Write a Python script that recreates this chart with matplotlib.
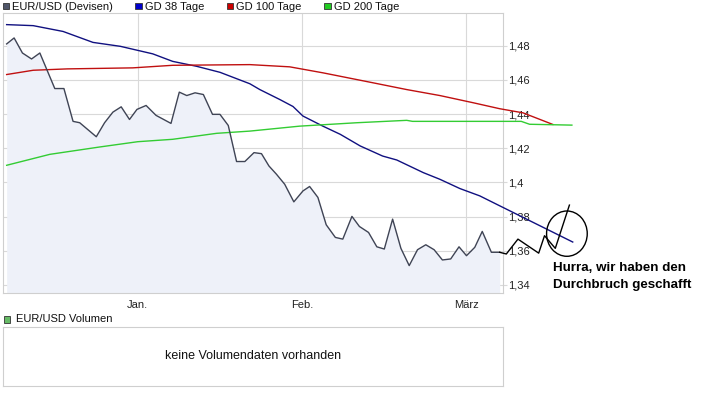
import matplotlib
matplotlib.use("Agg")
import matplotlib.pyplot as plt
from matplotlib.patches import Rectangle, Ellipse

plt.rcParams['font.family'] = ['Liberation Sans', 'DejaVu Sans']

# ---- data (x = trading-day index) ----
price_x = [0, 0.9, 1.9, 3.0, 4.0, 5.8, 6.9, 8.0, 8.8, 10.8, 11.8, 12.8, 13.8, 14.8, 15.7,
           16.8, 18.0, 19.8, 20.8, 21.7, 22.7, 23.7, 24.8, 25.7, 26.7, 27.7, 28.7, 29.8,
           30.7, 31.6, 32.5, 33.5, 34.6, 35.7, 36.5, 37.5, 38.5, 39.6, 40.5, 41.6, 42.5,
           43.6, 44.6, 45.5, 46.5, 47.5, 48.5, 49.5, 50.5, 51.5, 52.5, 53.5, 54.5, 55.4,
           56.4, 57.3, 58.4, 59.4]
price = [1.481, 1.4845, 1.4757, 1.4722, 1.4757, 1.4549, 1.4549, 1.4357, 1.4349, 1.4267,
         1.4349, 1.4411, 1.4442, 1.4368, 1.4427, 1.445, 1.4392, 1.4345, 1.4528, 1.4508,
         1.4524, 1.4514, 1.4398, 1.4398, 1.4333, 1.4122, 1.4122, 1.4174, 1.4168, 1.4096,
         1.4048, 1.3989, 1.3886, 1.395, 1.3976, 1.3912, 1.3752, 1.3678, 1.3668, 1.3801,
         1.3742, 1.3707, 1.3623, 1.361, 1.3785, 1.3614, 1.3513, 1.3606, 1.3635, 1.3606,
         1.3546, 1.3552, 1.3623, 1.3571, 1.362, 1.3713, 1.3591, 1.3591]

gd38_x = [0, 3.2, 6.8, 10.4, 13.7, 17.6, 20.0, 22.9, 25.7, 29.3, 30.5, 32.9, 34.5, 35.7,
          38.1, 40.2, 42.6, 45.3, 47.0, 50.2, 52.2, 54.6, 57.0, 59.4, 68.2]
gd38 = [1.4923, 1.4917, 1.4883, 1.4819, 1.4796, 1.4752, 1.4708, 1.4679, 1.4644, 1.4577,
        1.4543, 1.4485, 1.4444, 1.4388, 1.4329, 1.4281, 1.4213, 1.4154, 1.4131, 1.4057,
        1.4018, 1.3964, 1.3921, 1.3863, 1.3651]

gd100_x = [0, 3.2, 7.3, 15.2, 20.0, 29.3, 34.1, 38.1, 44.1, 48.2, 52.2, 56.2, 59.4, 62.2, 65.8]
gd100 = [1.4631, 1.4656, 1.4664, 1.467, 1.4685, 1.4689, 1.4676, 1.4641, 1.4583, 1.4543,
         1.4508, 1.4466, 1.4431, 1.4407, 1.4339]

gd200_x = [0, 5.2, 11.2, 15.8, 20.0, 25.3, 29.3, 35.3, 42.2, 48.2, 48.9, 59.4, 62.0, 63.0, 68.1]
gd200 = [1.41, 1.4164, 1.4207, 1.4238, 1.4252, 1.4287, 1.43, 1.4329, 1.4349, 1.4363,
         1.4357, 1.4357, 1.4357, 1.4340, 1.4335]

# hand-drawn continuation
sketch_x = [59.4, 60.2, 61.6, 64.1, 64.8, 66.1, 67.8]
sketch = [1.3591, 1.3581, 1.3668, 1.3586, 1.3688, 1.3614, 1.3867]
circle_center = (67.5, 1.370)
circle_size = (4.9, 0.0265)

month_pos = [15.8, 35.6, 55.4]
month_labels = ["Jan.", "Feb.", "März"]
yticks = [1.34, 1.36, 1.38, 1.40, 1.42, 1.44, 1.46, 1.48]
ytick_labels = ["1,34", "1,36", "1,38", "1,4", "1,42", "1,44", "1,46", "1,48"]

legend_items = [("EUR/USD (Devisen)", "#50566a"), ("GD 38 Tage", "#0000cc"),
                ("GD 100 Tage", "#cc0000"), ("GD 200 Tage", "#22cc22")]
note_lines = ["Hurra, wir haben den", "Durchbruch geschafft"]

W, H = 703, 395
fig = plt.figure(figsize=(W / 100, H / 100), dpi=100)

def fx(px):
    return px / W

def fy(py):
    return 1 - py / H

grid_c = "#d9d9d9"
ax = fig.add_axes([fx(2.5), fy(293.3), fx(503) - fx(2.5), fy(13) - fy(293.3)])
ax.set_xlim(-0.5, 59.8)
ax.set_ylim(1.3351, 1.4991)

ax.fill_between(price_x, price, 1.3351, color="#eef1f9", zorder=1, lw=0)
ax.plot(price_x, price, color="#3f4455", lw=1.0, zorder=4)
ax.plot(gd38_x, gd38, color="#101080", lw=1.0, zorder=3, clip_on=False)
ax.plot(gd100_x, gd100, color="#c01010", lw=1.0, zorder=3, clip_on=False)
ax.plot(gd200_x, gd200, color="#33cc33", lw=1.0, zorder=3, clip_on=False)
ax.plot(sketch_x, sketch, color="black", lw=1.0, zorder=5, clip_on=False)
ax.add_patch(Ellipse(circle_center, circle_size[0], circle_size[1], fill=False,
                     ec="black", lw=1.0, zorder=5, clip_on=False))

ax.set_yticks(yticks)
ax.set_yticklabels(ytick_labels)
ax.set_xticks(month_pos)
ax.set_xticklabels(month_labels)
ax.yaxis.tick_right()
ax.tick_params(axis="y", length=3, color=grid_c, labelsize=8, pad=0.5, labelcolor="#222222")
ax.tick_params(axis="x", length=0, labelsize=8, pad=4.5, labelcolor="#222222")
ax.grid(True, color=grid_c, lw=0.8, zorder=0)
ax.set_axisbelow(True)
for s in ax.spines.values():
    s.set_color("#cfcfcf")
    s.set_linewidth(0.8)

for line, py in zip(note_lines, [268, 285]):
    fig.text(fx(553), fy(py), line, fontsize=9.6, fontweight="bold",
             ha="left", va="center", color="black")

# legend row
leg_x = [2.5, 135, 226.5, 324]
for (label, col), lx in zip(legend_items, leg_x):
    fig.patches.append(Rectangle((fx(lx), fy(9)), fx(6.5), 6.5 / H, transform=fig.transFigure,
                                 fc=col, ec="#333333", lw=0.6))
    fig.text(fx(lx + 10), fy(6.5), label, fontsize=8, ha="left", va="center", color="#111111")

# volume panel
fig.patches.append(Rectangle((fx(3.5), fy(322.5)), fx(6.5), 6.5 / H, transform=fig.transFigure,
                             fc="#66bb66", ec="#333333", lw=0.6))
fig.text(fx(15.5), fy(319), "EUR/USD Volumen", fontsize=8, ha="left", va="center", color="#111111")
vax = fig.add_axes([fx(2.5), fy(386), fx(503) - fx(2.5), fy(326.7) - fy(386)])
vax.set_xticks([])
vax.set_yticks([])
for s in vax.spines.values():
    s.set_color("#cfcfcf")
    s.set_linewidth(0.8)
vax.text(0.5, 0.5, "keine Volumendaten vorhanden", fontsize=9, ha="center", va="center",
         transform=vax.transAxes, color="#111111")

fig.savefig("out.png", dpi=100)
